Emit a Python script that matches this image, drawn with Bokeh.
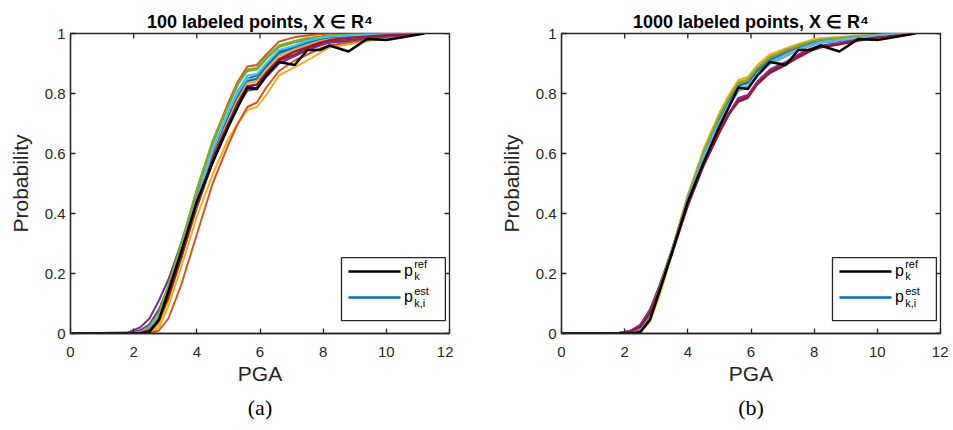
import math
from bokeh.plotting import figure
from bokeh.layouts import row
from bokeh.models import Range1d, FixedTicker, LinearAxis, Title, Label
from bokeh.embed import file_html
from bokeh.resources import INLINE

# ---------------- data ----------------
pga = [0, 1.8, 2.2, 2.5, 2.8, 3.1, 3.5, 4.0, 4.5, 5.0, 5.3, 5.6, 5.9, 6.2, 6.6,
       7.1, 7.5, 7.9, 8.2, 8.8, 9.4, 10.0, 11.2]

p_ref = [0, 0, 0, 0.005, 0.045, 0.14, 0.27, 0.44, 0.57, 0.69, 0.755, 0.82, 0.815, 0.86, 0.905,
         0.895, 0.945, 0.945, 0.96, 0.94, 0.982, 0.978, 1.0]

# 100 labeled points
est_a1 = [0, 0, 0.002, 0.01, 0.05, 0.13, 0.27, 0.45, 0.60, 0.72, 0.79, 0.85, 0.86, 0.90, 0.94, 0.95, 0.97, 0.975, 0.98, 0.985, 0.99, 0.995, 1.0]
est_a2 = [0, 0, 0, 0.003, 0.04, 0.13, 0.29, 0.48, 0.64, 0.77, 0.84, 0.89, 0.895, 0.93, 0.973, 0.988, 0.993, 0.998, 1.0, 1.0, 1.0, 1.0, 1.0]
est_a3 = [0, 0, 0, 0.002, 0.02, 0.09, 0.22, 0.39, 0.53, 0.65, 0.70, 0.745, 0.755, 0.795, 0.86, 0.888, 0.91, 0.935, 0.954, 0.963, 0.975, 0.985, 1.0]
est_a4 = [0, 0.003, 0.02, 0.05, 0.11, 0.18, 0.30, 0.46, 0.59, 0.70, 0.77, 0.82, 0.83, 0.87, 0.91, 0.94, 0.955, 0.965, 0.97, 0.975, 0.985, 0.99, 1.0]
est_a5 = [0, 0.001, 0.01, 0.03, 0.08, 0.16, 0.29, 0.47, 0.63, 0.76, 0.83, 0.875, 0.88, 0.915, 0.955, 0.97, 0.98, 0.985, 0.99, 0.995, 0.997, 0.999, 1.0]
est_a6 = [0, 0, 0.004, 0.02, 0.06, 0.14, 0.27, 0.45, 0.61, 0.73, 0.80, 0.85, 0.845, 0.89, 0.93, 0.95, 0.965, 0.975, 0.98, 0.985, 0.99, 0.995, 1.0]
est_a7 = [0, 0, 0.003, 0.015, 0.05, 0.12, 0.25, 0.42, 0.57, 0.69, 0.76, 0.81, 0.82, 0.86, 0.91, 0.93, 0.95, 0.965, 0.975, 0.98, 0.99, 0.995, 1.0]
est_a8 = [0, 0, 0.001, 0.008, 0.04, 0.12, 0.26, 0.44, 0.60, 0.72, 0.79, 0.84, 0.85, 0.89, 0.935, 0.955, 0.97, 0.98, 0.985, 0.99, 0.993, 0.997, 1.0]
est_a9 = [0, 0, 0, 0, 0.01, 0.05, 0.16, 0.33, 0.50, 0.63, 0.70, 0.755, 0.77, 0.82, 0.875, 0.91, 0.93, 0.95, 0.96, 0.97, 0.98, 0.99, 1.0]
est_a10 = [0, 0, 0, 0.004, 0.03, 0.11, 0.25, 0.43, 0.59, 0.71, 0.78, 0.835, 0.84, 0.88, 0.925, 0.945, 0.96, 0.975, 0.98, 0.985, 0.99, 0.995, 1.0]
est_a11 = [0, 0.001, 0.01, 0.03, 0.08, 0.15, 0.27, 0.44, 0.59, 0.70, 0.76, 0.81, 0.815, 0.855, 0.90, 0.925, 0.945, 0.96, 0.97, 0.975, 0.985, 0.99, 1.0]
est_a12 = [0, 0, 0.005, 0.025, 0.07, 0.16, 0.30, 0.48, 0.64, 0.76, 0.83, 0.88, 0.885, 0.92, 0.96, 0.975, 0.985, 0.99, 0.993, 0.996, 0.998, 1.0, 1.0]
est_a13 = [0, 0, 0.003, 0.018, 0.06, 0.13, 0.26, 0.44, 0.61, 0.74, 0.81, 0.86, 0.865, 0.90, 0.945, 0.96, 0.975, 0.985, 0.99, 0.993, 0.996, 0.998, 1.0]
est_a14 = [0, 0, 0.002, 0.012, 0.045, 0.12, 0.25, 0.43, 0.58, 0.70, 0.77, 0.825, 0.83, 0.87, 0.915, 0.94, 0.955, 0.97, 0.978, 0.985, 0.99, 0.995, 1.0]

# 1000 labeled points
est_b1 = [0, 0, 0.003, 0.015, 0.06, 0.14, 0.27, 0.44, 0.58, 0.69, 0.755, 0.81, 0.82, 0.86, 0.90, 0.925, 0.945, 0.96, 0.97, 0.975, 0.985, 0.99, 1.0]
est_b2 = [0, 0, 0.002, 0.012, 0.055, 0.14, 0.28, 0.46, 0.61, 0.73, 0.79, 0.84, 0.85, 0.89, 0.925, 0.945, 0.96, 0.975, 0.98, 0.985, 0.99, 0.995, 1.0]
est_b3 = [0, 0, 0.001, 0.008, 0.045, 0.13, 0.27, 0.46, 0.615, 0.735, 0.795, 0.845, 0.855, 0.895, 0.93, 0.95, 0.965, 0.978, 0.984, 0.988, 0.993, 0.996, 1.0]
est_b4 = [0, 0.002, 0.01, 0.03, 0.08, 0.16, 0.28, 0.43, 0.56, 0.67, 0.73, 0.78, 0.79, 0.835, 0.875, 0.90, 0.925, 0.945, 0.955, 0.965, 0.978, 0.988, 1.0]
est_b5 = [0, 0.001, 0.006, 0.022, 0.07, 0.15, 0.28, 0.45, 0.60, 0.72, 0.78, 0.83, 0.84, 0.88, 0.915, 0.94, 0.955, 0.97, 0.978, 0.983, 0.99, 0.995, 1.0]
est_b6 = [0, 0.001, 0.005, 0.02, 0.065, 0.145, 0.27, 0.44, 0.585, 0.70, 0.76, 0.81, 0.82, 0.86, 0.90, 0.925, 0.945, 0.96, 0.97, 0.977, 0.986, 0.992, 1.0]
est_b7 = [0, 0.001, 0.007, 0.025, 0.07, 0.15, 0.27, 0.43, 0.565, 0.675, 0.735, 0.775, 0.79, 0.835, 0.87, 0.90, 0.925, 0.945, 0.955, 0.965, 0.978, 0.988, 1.0]
est_b8 = [0, 0, 0.004, 0.018, 0.06, 0.14, 0.275, 0.45, 0.595, 0.71, 0.77, 0.825, 0.835, 0.875, 0.91, 0.935, 0.95, 0.965, 0.975, 0.98, 0.988, 0.994, 1.0]
est_b9 = [0, 0, 0.002, 0.01, 0.05, 0.135, 0.275, 0.455, 0.605, 0.725, 0.785, 0.835, 0.845, 0.885, 0.92, 0.94, 0.958, 0.972, 0.98, 0.985, 0.99, 0.995, 1.0]
est_b10 = [0, 0, 0.001, 0.006, 0.04, 0.125, 0.265, 0.455, 0.61, 0.73, 0.79, 0.84, 0.85, 0.89, 0.928, 0.948, 0.963, 0.976, 0.983, 0.987, 0.992, 0.996, 1.0]
est_b11 = [0, 0.002, 0.009, 0.028, 0.078, 0.155, 0.275, 0.43, 0.565, 0.675, 0.735, 0.785, 0.795, 0.84, 0.88, 0.905, 0.93, 0.95, 0.96, 0.968, 0.98, 0.99, 1.0]
est_b12 = [0, 0.001, 0.005, 0.02, 0.068, 0.15, 0.28, 0.455, 0.605, 0.725, 0.785, 0.835, 0.845, 0.885, 0.92, 0.945, 0.96, 0.973, 0.98, 0.985, 0.991, 0.995, 1.0]
est_b13 = [0, 0.001, 0.004, 0.018, 0.062, 0.14, 0.27, 0.445, 0.59, 0.705, 0.765, 0.815, 0.825, 0.865, 0.905, 0.93, 0.948, 0.963, 0.972, 0.979, 0.987, 0.993, 1.0]
est_b14 = [0, 0.001, 0.006, 0.022, 0.068, 0.145, 0.265, 0.425, 0.56, 0.67, 0.73, 0.772, 0.785, 0.83, 0.868, 0.895, 0.92, 0.942, 0.953, 0.963, 0.976, 0.987, 1.0]

est_a = [est_a1, est_a2, est_a3, est_a4, est_a5, est_a6, est_a7,
         est_a8, est_a9, est_a10, est_a11, est_a12, est_a13, est_a14]
est_b = [est_b1, est_b2, est_b3, est_b4, est_b5, est_b6, est_b7,
         est_b8, est_b9, est_b10, est_b11, est_b12, est_b13, est_b14]

x_ticks = [0, 2, 4, 6, 8, 10, 12]
x_tick_labels = ["0", "2", "4", "6", "8", "10", "12"]
y_ticks = [0, 0.2, 0.4, 0.6, 0.8, 1]
y_tick_labels = ["0", "0.2", "0.4", "0.6", "0.8", "1"]

titles = ["100 labeled points, X \u2208 R\u2074", "1000 labeled points, X \u2208 R\u2074"]
captions = ["(a)", "(b)"]

colors = ["#0072BD", "#D95319", "#EDB120", "#7E2F8E", "#77AC30", "#4DBEEE", "#A2142F"]

FONT = "Liberation Sans"
AX = "#262626"
X_MIN, X_MAX, Y_MIN, Y_MAX = 0, 12, 0, 1


def make_panel(est, title, caption, left_border, right_border):
    p = figure(frame_width=379, frame_height=300, output_backend="svg",
               toolbar_location=None, x_range=Range1d(X_MIN, X_MAX), y_range=Range1d(Y_MIN, Y_MAX),
               min_border_left=left_border, min_border_right=right_border,
               min_border_top=33, min_border_bottom=92,
               x_axis_location=None, y_axis_location=None)
    p.grid.visible = False
    p.outline_line_color = AX
    p.outline_line_width = 1.3
    p.outline_line_alpha = 1.0
    p.background_fill_color = "white"

    xt = dict(zip([float(t) for t in x_ticks], x_tick_labels))
    yt = dict(zip([float(t) for t in y_ticks], y_tick_labels))

    def style(ax):
        ax.axis_line_color = AX
        ax.axis_line_width = 1.3
        ax.major_tick_line_color = AX
        ax.major_tick_line_width = 1.3
        ax.major_tick_in = 5
        ax.major_tick_out = 0
        ax.minor_tick_line_color = None
        ax.major_label_text_font = FONT
        ax.major_label_text_color = AX
        ax.major_label_text_font_size = "15px"
        ax.axis_label_text_font = FONT
        ax.axis_label_text_font_style = "normal"
        ax.axis_label_text_color = AX
        ax.axis_label_text_font_size = "21px"

    xb = LinearAxis(ticker=FixedTicker(ticks=x_ticks), axis_label="PGA")
    xb.major_label_overrides = xt
    style(xb)
    xb.major_label_standoff = 13
    xb.axis_label_standoff = 2
    p.add_layout(xb, "below")

    yl = LinearAxis(ticker=FixedTicker(ticks=y_ticks), axis_label="Probability")
    yl.major_label_overrides = yt
    style(yl)
    yl.major_label_standoff = 5
    yl.axis_label_standoff = 10
    p.add_layout(yl, "left")

    # inward ticks on the top and right edges of the box
    p.scatter(x_ticks, [Y_MAX] * len(x_ticks), marker="dash", size=10, angle=math.pi / 2,
              line_color=AX, line_width=1.3)
    p.scatter([X_MAX] * len(y_ticks), y_ticks, marker="dash", size=10,
              line_color=AX, line_width=1.3)

    p.add_layout(Title(text=title, align="center", text_font=FONT, text_font_size="18px",
                       text_font_style="bold", text_color="black", standoff=4), "above")
    p.add_layout(Title(text=caption, align="center", text_font="Liberation Serif",
                       text_font_size="22px", text_font_style="normal", text_color="black",
                       standoff=11), "below")

    for i, ys in enumerate(est):
        p.line(pga, ys, line_color=colors[i % len(colors)], line_width=2)
    p.line(pga, p_ref, line_color="black", line_width=2.5)

    # legend (manual, for sub/superscripts)
    p.quad(left=[8.58], right=[11.87], bottom=[0.043], top=[0.253],
           fill_color="white", line_color=AX, line_width=1.3)
    p.line([8.8, 10.45], [0.207, 0.207], line_color="black", line_width=2.5)
    p.line([8.8, 10.45], [0.12, 0.12], line_color=colors[0], line_width=2.5)
    for yy, sup, sub in [(0.207, "ref", "k"), (0.12, "est", "k,i")]:
        p.add_layout(Label(x=10.56, y=yy, text="p", text_font=FONT, text_font_size="16px",
                           text_baseline="middle", text_color="black", y_offset=1))
        p.add_layout(Label(x=10.88, y=yy, text=sup, text_font=FONT, text_font_size="11px",
                           text_baseline="middle", text_color="black", y_offset=7))
        p.add_layout(Label(x=10.88, y=yy, text=sub, text_font=FONT, text_font_size="11px",
                           text_baseline="middle", text_color="black", y_offset=-5))
    return p


pa = make_panel(est_a, titles[0], captions[0], 70, 4)
pb = make_panel(est_b, titles[1], captions[1], 108, 8)

layout = row(pa, pb, spacing=0)
open("out.html", "w").write(file_html(layout, INLINE))
